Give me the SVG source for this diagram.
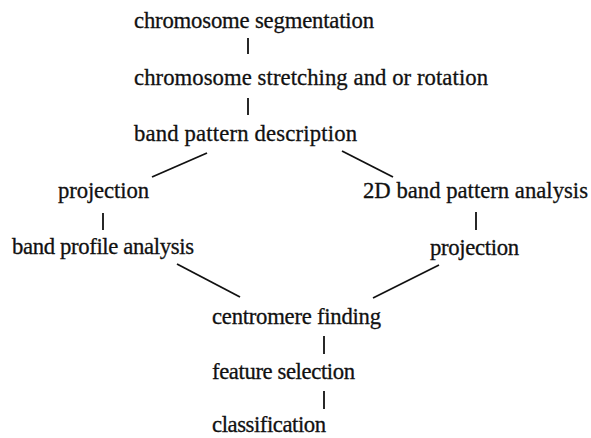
<svg xmlns="http://www.w3.org/2000/svg" width="591" height="438" viewBox="0 0 591 438">
<style>
.t{font-family:"Liberation Serif","Times New Roman",serif;font-size:22.7px;fill:#111;stroke:#111;stroke-width:0.3}
.c{stroke:#111;stroke-width:1.8;fill:none;stroke-linecap:butt}
</style>
<rect width="591" height="438" fill="#fff"/>
<g id="n1"><text class="t" x="134" y="28" textLength="240">chromosome segmentation</text></g>
<g id="n2"><text class="t" x="134" y="85" textLength="354">chromosome stretching and or rotation</text></g>
<g id="n3"><text class="t" x="134" y="141" textLength="223">band pattern description</text></g>
<g id="n4"><text class="t" x="58" y="198" textLength="91">projection</text></g>
<g id="n5"><text class="t" x="363" y="198" textLength="225">2D band pattern analysis</text></g>
<g id="n6"><text class="t" x="12" y="254" textLength="182">band profile analysis</text></g>
<g id="n7"><text class="t" x="430" y="255" textLength="89">projection</text></g>
<g id="n8"><text class="t" x="212" y="324" textLength="169">centromere finding</text></g>
<g id="n9"><text class="t" x="212" y="379" textLength="143">feature selection</text></g>
<g id="n10"><text class="t" x="212" y="432" textLength="114">classification</text></g>
<g id="connectors" class="c">
<line x1="248" y1="38" x2="248" y2="54"/>
<line x1="248" y1="98" x2="248" y2="115"/>
<line x1="152" y1="177" x2="207" y2="153"/>
<line x1="342" y1="151" x2="393" y2="177"/>
<line x1="103" y1="213" x2="103" y2="230"/>
<line x1="476" y1="212" x2="476" y2="230"/>
<line x1="177" y1="264" x2="240" y2="297"/>
<line x1="439" y1="265" x2="373" y2="298"/>
<line x1="324" y1="336" x2="324" y2="354"/>
<line x1="324" y1="391" x2="324" y2="409"/>
</g>
</svg>
